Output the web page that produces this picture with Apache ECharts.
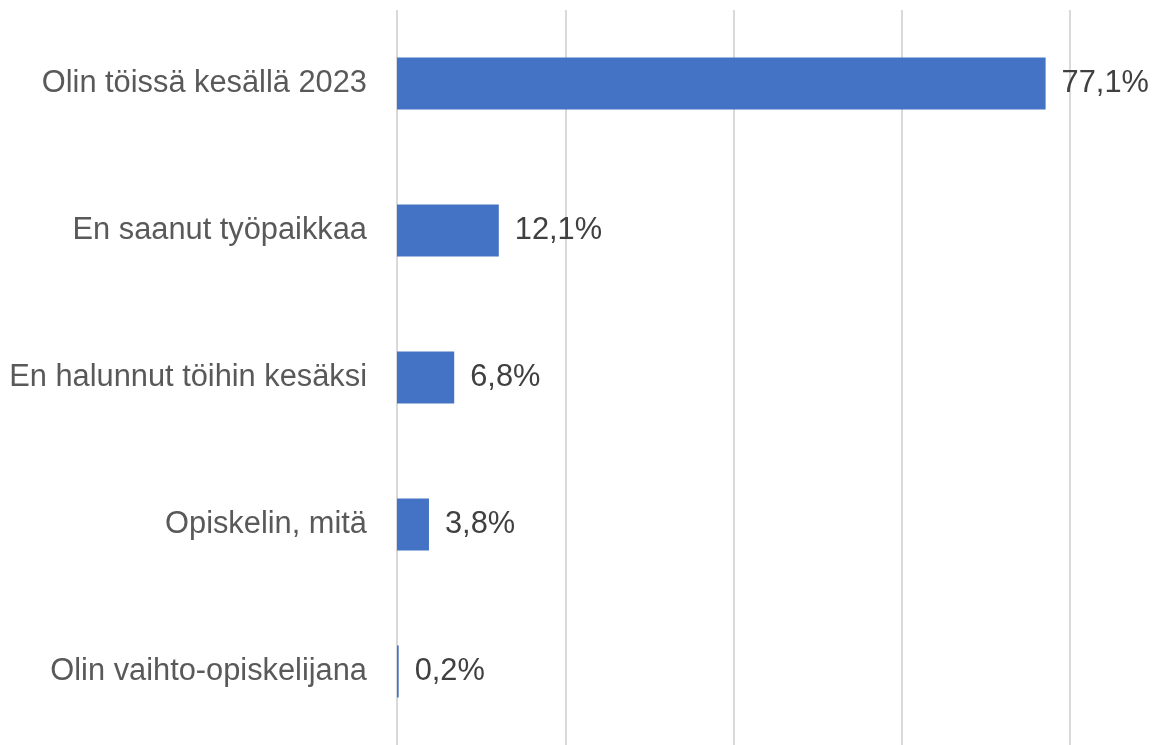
<!DOCTYPE html>
<html>
<head>
<meta charset="utf-8">
<script src="https://cdn.jsdelivr.net/npm/echarts@6/dist/echarts.min.js"></script>
<style>
  html, body { margin: 0; padding: 0; background: #fff; }
  #chart { width: 1153px; height: 745px; }
</style>
</head>
<body>
<div id="chart"></div>
<script>
// categories from top to bottom
const categories = [
  'Olin töissä kesällä 2023',
  'En saanut työpaikkaa',
  'En halunnut töihin kesäksi',
  'Opiskelin, mitä',
  'Olin vaihto-opiskelijana'
];
const values = [77.1, 12.1, 6.8, 3.8, 0.2];

const font = '"Liberation Sans", "Open Sans", sans-serif';

const chart = echarts.init(document.getElementById('chart'));
chart.setOption({
  backgroundColor: '#fff',
  animation: false,
  grid: { left: 397, right: 83, top: 10, bottom: -6, containLabel: false },
  xAxis: {
    type: 'value',
    min: 0,
    max: 80,
    interval: 20,
    axisLabel: { show: false },
    axisLine: { show: false },
    axisTick: { show: false },
    splitLine: { lineStyle: { color: '#d9d9d9', width: 2 } }
  },
  yAxis: {
    type: 'category',
    inverse: true,
    data: categories,
    axisLine: { show: false },
    axisTick: { show: false },
    axisLabel: { color: '#595959', fontSize: 30.8, fontFamily: font, margin: 30 }
  },
  series: [
    {
      type: 'bar',
      data: values,
      barWidth: 52,
      itemStyle: { color: '#4472C4' },
      label: {
        show: true,
        position: 'right',
        distance: 16,
        color: '#404040',
        fontSize: 30.8,
        fontFamily: font,
        formatter: p => p.value.toFixed(1).replace('.', ',') + '%'
      }
    }
  ]
});
</script>
</body>
</html>
